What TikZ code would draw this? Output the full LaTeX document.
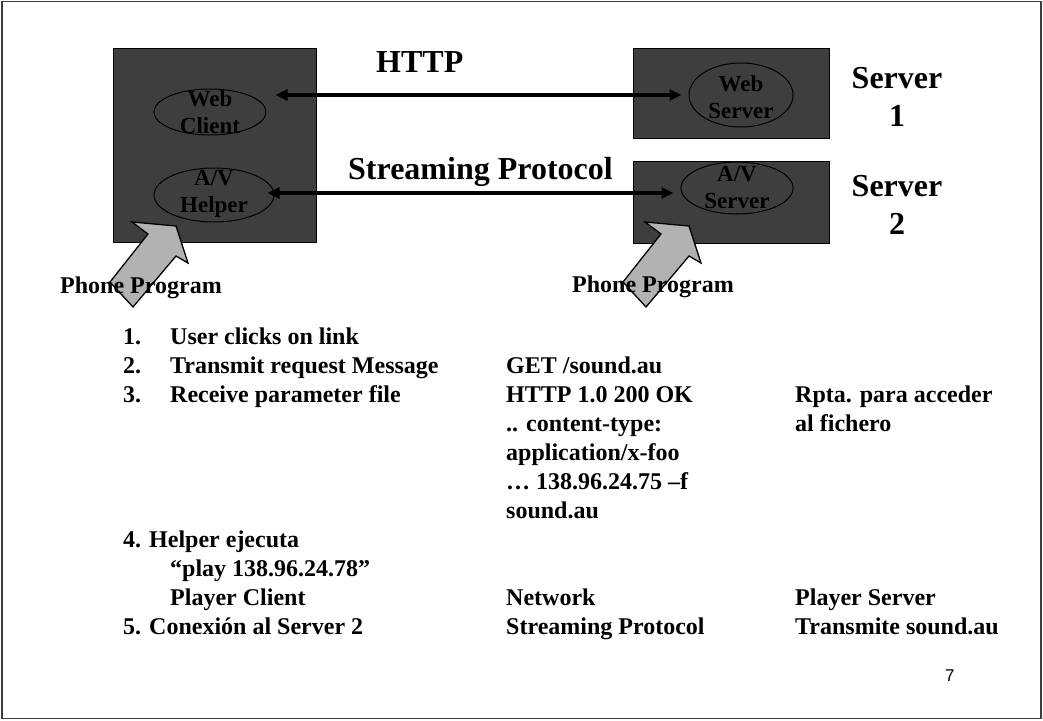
\documentclass[tikz,border=0pt]{standalone}
\usepackage{fontspec}
\setmainfont{Liberation Serif}
\newfontfamily\numfont{Liberation Sans}
\usetikzlibrary{arrows.meta,shapes.geometric}
\definecolor{boxgray}{RGB}{62,62,62}
\definecolor{handgray}{RGB}{178,178,178}
\definecolor{framegray}{RGB}{60,60,60}

\begin{document}
\begin{tikzpicture}[x=1pt,y=-1pt,
  panel/.style={draw=black,line width=1pt,fill=boxgray,inner sep=0pt},
  role/.style={ellipse,draw=black,line width=1pt,inner sep=0pt},
  roletext/.style={align=center,inner sep=0pt,font=\fontsize{23}{27}\selectfont\bfseries,text=black},
  link/.style={line width=4pt,{Triangle[length=12pt,width=11pt]}-{Triangle[length=12pt,width=11pt]}},
  hand/.style={draw=black,line width=1.3pt,fill=handgray,line join=miter},
  big/.style={font=\fontsize{32}{38}\selectfont\bfseries,inner sep=0pt},
  body/.style={font=\fontsize{24}{29}\selectfont\bfseries,inner sep=0pt,anchor=base west},
]
\useasboundingbox (0,0) rectangle (1043,720);
\fill[white] (0,0) rectangle (1043,720);
\draw[framegray,line width=1.5pt] (2,1.5) rectangle (1041,718.5);

% machines
\node[panel,minimum width=203pt,minimum height=194pt] (client) at (214.5,145) {};
\node[panel,minimum width=196pt,minimum height=90pt] (srv1) at (731,93) {};
\node[panel,minimum width=196pt,minimum height=82pt] (srv2) at (731,202) {};

% programs inside the machines
\node[role,minimum width=112pt,minimum height=46pt] (wc) at (210,112) {};
\node[role,minimum width=120pt,minimum height=54pt] (avh) at (214,195) {};
\node[role,minimum width=104pt,minimum height=64pt] (ws) at (741,95) {};
\node[role,minimum width=112pt,minimum height=52pt] (avs) at (737,188) {};

% (xshift/yshift are canvas lengths: positive yshift moves up)
\node[roletext] (wct) at ([yshift=-0.5pt]wc.center) {Web\\Client};
\node[roletext] (avht) at ([yshift=1.5pt]avh.center) {A/V\\Helper};
\node[roletext] (wst) at ([yshift=-2.5pt]ws.center) {Web\\Server};
\node[roletext] (avst) at ([yshift=0.5pt]avs.center) {A/V\\Server};

% protocol links
\draw[link] ([xshift=9pt]wc.east |- ws.west) -- ([xshift=-7pt]ws.west);
\draw[link] ([xshift=-7pt,yshift=2pt]avh.east) coordinate (sa)
  -- ([xshift=-7pt]avs.west |- sa);

\node[big,anchor=base west] (http) at (376,72) {HTTP};
\node[big,anchor=base west] (sp) at (348,179) {Streaming Protocol};

% last-line baselines of the two-line server labels
\node[big,anchor=base,align=center] (s1) at (897,126) {Server\\1};
\node[big,anchor=base,align=center] (s2) at (897,234) {Server\\2};

% phone program arrows
\path[hand] (110,282) -- (133,307) -- (176,256) -- (188,263) -- (176,226)
  -- (132,222) -- (148,234) -- cycle;
\path[hand] (623,282) -- (646,307) -- (689,256) -- (701,263) -- (689,226)
  -- (645,222) -- (661,234) -- cycle;

\node[body] (pp1) at (60,293) {Phone Program};
\node[body] (pp2) at (572,292) {Phone Program};

% steps
\node[body] (n1) at (123,344) {1.};
\node[body] (t1) at (170,344) {User clicks on link};
\node[body] (n2) at (123,373) {2.};
\node[body] (t2) at (170,373) {Transmit request Message};
\node[body] (g2) at (506,373) {GET /sound.au};
\node[body] (n3) at (123,402) {3.};
\node[body] (t3) at (170,402) {Receive parameter file};
\node[body] (g3) at (506,402) {HTTP 1.0 200 OK};
\node[body] (r3) at (795,402) {Rpta. para acceder};
\node[body] (g4) at (506,431) {.. content-type:};
\node[body] (r4) at (795,431) {al fichero};
\node[body] (g5) at (506,460) {application/x-foo};
\node[body] (g6) at (506,489) {… 138.96.24.75 –f};
\node[body] (g7) at (506,518) {sound.au};
\node[body] (t8) at (123,547) {4. Helper ejecuta};
\node[body] (t9) at (170,576) {“play 138.96.24.78”};
\node[body] (t10) at (170,605) {Player Client};
\node[body] (g10) at (506,605) {Network};
\node[body] (r10) at (795,605) {Player Server};
\node[body] (t11) at (123,634) {5. Conexión al Server 2};
\node[body] (g11) at (506,634) {Streaming Protocol};
\node[body] (r11) at (795,634) {Transmite sound.au};

\node[anchor=base west,inner sep=0pt,font=\numfont\fontsize{17}{20}\selectfont] (pg) at (945,681) {7};
\end{tikzpicture}
\end{document}
